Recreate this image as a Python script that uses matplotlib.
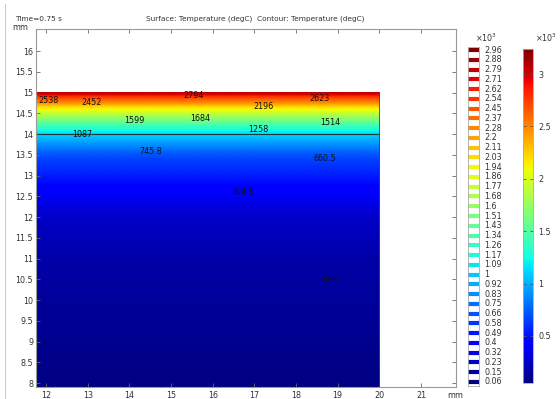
import numpy as np
import matplotlib
matplotlib.use('Agg')
import matplotlib.pyplot as plt
from matplotlib.colors import Normalize
from matplotlib.cm import ScalarMappable
from matplotlib.transforms import blended_transform_factory

prof_y = [7.91, 11.0, 12.0, 12.60, 13.41, 13.57, 13.98, 14.11, 14.29, 14.32, 14.38,
          14.66, 14.76, 14.80, 14.85, 14.92, 15.0]
prof_T = [60, 165, 255, 404.5, 660.5, 745.8, 1087, 1258, 1514, 1599, 1684,
          2196, 2452, 2538, 2623, 2794, 3100]

# contour levels (degC) and their legend labels (x10^3)
contour_levels = [63.2, 148.5, 233.8, 319.2, 404.5, 489.8, 575.2, 660.5, 745.8,
                  831.2, 916.5, 1001.8, 1087.1, 1172.5, 1257.8, 1343.1, 1428.5,
                  1513.8, 1599.1, 1684.4, 1769.8, 1855.1, 1940.4, 2025.8, 2111.1,
                  2196.4, 2281.7, 2367.1, 2452.4, 2537.7, 2623.1, 2708.4, 2793.7,
                  2879.1, 2964.4]
legend_labels = ['0.06', '0.15', '0.23', '0.32', '0.4', '0.49', '0.58', '0.66',
                 '0.75', '0.83', '0.92', '1', '1.09', '1.17', '1.26', '1.34',
                 '1.43', '1.51', '1.6', '1.68', '1.77', '1.86', '1.94', '2.03',
                 '2.11', '2.2', '2.28', '2.37', '2.45', '2.54', '2.62', '2.71',
                 '2.79', '2.88', '2.96']

# labelled contours: value and where the label sits (mm)
label_vals = [2538, 2452, 2794, 2196, 2623, 1599, 1684, 1258, 1514, 1087,
              745.8, 660.5, 404.5, 148.5]
label_x = [12.06, 13.10, 15.53, 17.22, 18.57, 14.12, 15.69, 17.10, 18.83, 12.88,
           14.52, 18.68, 16.72, 18.80]
label_y = [14.80, 14.76, 14.92, 14.66, 14.85, 14.32, 14.38, 14.11, 14.29, 13.98,
           13.57, 13.41, 12.60, 10.49]

# geometry (mm)
x_left, x_right = 11.76, 20.0
y_bottom, y_top, y_interface = 7.91, 15.0, 14.0

cbar_ticks = [500, 1000, 1500, 2000, 2500, 3000]
cbar_labels = ['0.5', '1', '1.5', '2', '2.5', '3']
t_min, t_max = 50, 3240

fs = 5.8
tc = '#333333'
W, H = 560, 399
fig = plt.figure(figsize=(W / 100, H / 100), dpi=100)

ax = fig.add_axes([36 / W, 12 / H, 420 / W, 358 / H])
yy = np.linspace(y_bottom, y_top, 600)
xx = np.linspace(x_left, x_right, 20)
X, Y = np.meshgrid(xx, yy)
Z = np.interp(Y, prof_y, prof_T)
norm = Normalize(t_min, t_max)
ax.pcolormesh(X, Y, Z, cmap='jet', norm=norm, shading='gouraud')
for v, x, y in zip(label_vals, label_x, label_y):
    ax.text(x, y, '%.4g' % v, fontsize=fs, color='#111111', ha='center', va='center')

ax.plot([x_left, x_right], [y_interface, y_interface], color='#1a3a3a', lw=0.8)
ax.plot([x_left, x_right, x_right], [y_top, y_top, y_bottom], color='#444444', lw=0.6)

ax.set_xlim(x_left, 21.84)
ax.set_ylim(y_bottom, 16.53)
ax.set_xticks(range(12, 22))
ax.set_yticks(np.arange(8, 16.01, 0.5))
ax.set_yticklabels(['%g' % v for v in np.arange(8, 16.01, 0.5)])
ax.tick_params(direction='in', top=True, right=True, labelsize=fs, length=3,
               width=0.6, colors='#666666', labelcolor=tc, pad=2)
ax.tick_params(axis='x', pad=3)
for s in ax.spines.values():
    s.set_color('#999999')
    s.set_linewidth(0.8)

fig.text(12 / W, 1 - 27 / H, 'mm', fontsize=fs, color=tc, va='center')
fig.text(455 / W, 1 - 396 / H, 'mm', fontsize=fs, color=tc, va='center', ha='center')
fig.text(15 / W, 1 - 19 / H, 'Time=0.75 s', fontsize=5.3, color=tc, va='center')
fig.text(255 / W, 1 - 19 / H, 'Surface: Temperature (degC)  Contour: Temperature (degC)',
         fontsize=5.3, color=tc, va='center', ha='center')

# contour legend
lax = fig.add_axes([468 / W, 13 / H, 11 / W, 339 / H])
n = len(contour_levels)
lax.set_ylim(-0.41, n - 1 + 0.31)
lax.set_xlim(0, 1)
lnorm = Normalize(contour_levels[0], contour_levels[-1])
cmap = plt.get_cmap('jet')
tr = blended_transform_factory(lax.transAxes, lax.transData)
for k, (v, lab) in enumerate(zip(contour_levels, legend_labels)):
    lax.plot([0.0, 1.0], [k, k], color=cmap(lnorm(v)), lw=3.0, solid_capstyle='butt')
    lax.text(1.5, k, lab, transform=tr, fontsize=fs, color=tc, va='center')
lax.set_xticks([])
lax.set_yticks([])
for s in lax.spines.values():
    s.set_color('#aaaaaa')
    s.set_linewidth(0.6)
fig.text(486 / W, 1 - 38 / H, r'$\times10^3$', fontsize=fs, color=tc, va='center', ha='center')

# surface colorbar
cax = fig.add_axes([523 / W, 16 / H, 10 / W, 334 / H])
cb = fig.colorbar(ScalarMappable(norm=norm, cmap='jet'), cax=cax)
cb.set_ticks(cbar_ticks)
cb.set_ticklabels(cbar_labels)
cax.tick_params(direction='in', length=2.5, width=0.6, colors='#555555',
                labelcolor=tc, labelsize=fs, pad=4, left=True)
cb.outline.set_color('#aaaaaa')
cb.outline.set_linewidth(0.6)
fig.text(546 / W, 1 - 38 / H, r'$\times10^3$', fontsize=fs, color=tc, va='center', ha='center')

fig.add_artist(plt.Line2D([5 / W, 5 / W], [0, 1 - 4 / H], color='#cccccc', lw=0.8))

fig.savefig('out.png', dpi=100)
